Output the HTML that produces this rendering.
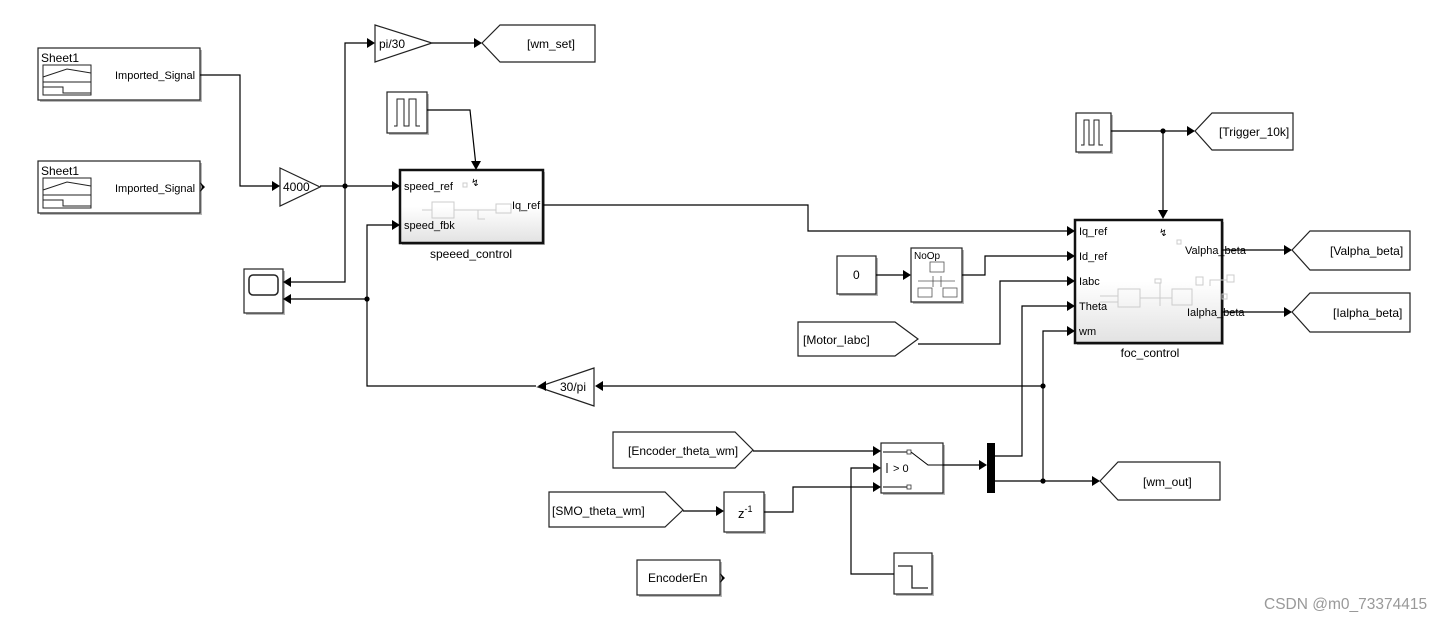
<!DOCTYPE html>
<html><head><meta charset="utf-8"><style>
html,body{margin:0;padding:0;background:#fff;}
svg{display:block;font-family:"Liberation Sans",Arial,sans-serif;}
</style></head><body>
<svg width="1455" height="621" viewBox="0 0 1455 621" xmlns="http://www.w3.org/2000/svg">
<defs>
<linearGradient id="g" x1="0" y1="0" x2="0" y2="1"><stop offset="0" stop-color="#fff"/><stop offset="0.5" stop-color="#fff"/><stop offset="1" stop-color="#e2e2e2"/></linearGradient>
</defs>
<g fill="#b8b8b8">
<rect x="40" y="50" width="162" height="52"/><rect x="40" y="163" width="162" height="52"/>
<rect x="246" y="271" width="39" height="44"/><rect x="389" y="94" width="40" height="41"/>
<rect x="402" y="172" width="143" height="73"/><rect x="1077" y="222" width="147" height="123"/>
<rect x="1078" y="115" width="35" height="39"/><rect x="839" y="258" width="39" height="38"/>
<rect x="913" y="250" width="51" height="54"/><rect x="883" y="445" width="62" height="50"/>
<rect x="726" y="494" width="40" height="40"/><rect x="896" y="555" width="38" height="41"/>
<rect x="639" y="562" width="83" height="35"/>
</g>
<g fill="#fff" stroke="#222" stroke-width="1.2">
<rect x="38" y="48" width="162" height="52"/><rect x="38" y="161" width="162" height="52"/>
<rect x="244" y="269" width="39" height="44"/><rect x="387" y="92" width="40" height="41"/>
<rect x="1076" y="113" width="35" height="39"/><rect x="837" y="256" width="39" height="38"/>
<rect x="911" y="248" width="51" height="54"/><rect x="881" y="443" width="62" height="50"/>
<rect x="724" y="492" width="40" height="40"/><rect x="894" y="553" width="38" height="41"/>
<rect x="637" y="560" width="83" height="35"/>
</g>
<rect x="400" y="170" width="143" height="73" fill="url(#g)" stroke="#111" stroke-width="2.5"/>
<rect x="1075" y="220" width="147" height="123" fill="url(#g)" stroke="#111" stroke-width="2.5"/>
<g fill="none" stroke="#222" stroke-width="1">
<rect x="43" y="65" width="48" height="30"/><line x1="43" y1="82" x2="91" y2="82"/>
<polyline points="43,77 67,69 91,73"/><polyline points="43,87 63,87 63,93 91,93"/>
<rect x="43" y="178" width="48" height="30"/><line x1="43" y1="195" x2="91" y2="195"/>
<polyline points="43,190 67,182 91,186"/><polyline points="43,200 63,200 63,206 91,206"/>
<rect x="249" y="275" width="29" height="20" rx="4" stroke-width="1.5"/>
<polyline points="394,126 397,126 397,99 404,99 404,126 409,126 409,99 416,99 416,126 420,126"/>
<polyline points="1081,145 1084,145 1084,120 1089,120 1089,145 1094,145 1094,120 1099,120 1099,145 1103,145"/>
<polyline points="898,566 912,566 912,588 928,588" stroke-width="1.3"/>
</g>
<g fill="#fff" stroke="#222" stroke-width="1.2">
<polygon points="280,168 320,187 280,206"/>
<polygon points="375,25 432,43 375,62"/>
<polygon points="594,368 538,387 594,406"/>
<polygon points="482,43 500,25 595,25 595,62 500,62"/>
<polygon points="1195,131 1212,113 1293,113 1293,150 1212,150"/>
<polygon points="1292,250 1310,231 1410,231 1410,270 1310,270"/>
<polygon points="1292,312 1310,293 1410,293 1410,332 1310,332"/>
<polygon points="1100,481 1118,462 1220,462 1220,500 1118,500"/>
<polygon points="798,322 895,322 918,339 895,356 798,356"/>
<polygon points="613,432 735,432 753,450 735,468 613,468"/>
<polygon points="549,492 665,492 683,510 665,527 549,527"/>
</g>
<rect x="987" y="443" width="8" height="50" fill="#000"/>
<g fill="none" stroke="#000" stroke-width="1.2">
<polyline points="200,75 240,75 240,186 278,186"/>
<line x1="320" y1="186" x2="397" y2="186"/>
<polyline points="345,186 345,43 373,43"/>
<line x1="432" y1="43" x2="480" y2="43"/>
<polyline points="345,186 345,282 286,282"/>
<polyline points="427,110 470,110 476,166"/>
<polyline points="397,225 367,225 367,386 536,386"/>
<line x1="367" y1="299" x2="286" y2="299"/>
<line x1="1043" y1="386" x2="598" y2="386"/>
<polyline points="543,205 808,205 808,231 1071,231"/>
<line x1="1111" y1="131" x2="1192" y2="131"/>
<line x1="1163" y1="131" x2="1163" y2="215"/>
<line x1="876" y1="275" x2="908" y2="275"/>
<polyline points="962,275 985,275 985,256 1071,256"/>
<polyline points="918,344 1000,344 1000,281 1071,281"/>
<polyline points="995,456 1022,456 1022,306 1071,306"/>
<polyline points="995,481 1043,481 1043,331 1071,331"/>
<line x1="1043" y1="481" x2="1097" y2="481"/>
<line x1="1222" y1="250" x2="1290" y2="250"/>
<line x1="1222" y1="312" x2="1290" y2="312"/>
<line x1="753" y1="451" x2="878" y2="451"/>
<line x1="683" y1="511" x2="721" y2="511"/>
<polyline points="764,512 793,512 793,487 878,487"/>
<polyline points="894,574 851,574 851,468 878,468"/>
<line x1="943" y1="465" x2="984" y2="465"/>
<g stroke-width="1"><polyline points="883,452 907,452"/><polyline points="883,487 907,487"/><polyline points="911,452 928,465 943,465"/><line x1="887" y1="463" x2="887" y2="473"/></g>
</g>
<g fill="none" stroke="#333" stroke-width="0.8"><rect x="907" y="450" width="4" height="4"/><rect x="907" y="485" width="4" height="4"/></g>
<g fill="#000">
<polygon points="280,186 272,181 272,191"/><polygon points="400,186 392,181 392,191"/>
<polygon points="375,43 367,38 367,48"/><polygon points="482,43 474,38 474,48"/>
<polygon points="283,282 291,277 291,287"/><polygon points="283,299 291,294 291,304"/>
<polygon points="476,170 471,161 481,161"/><polygon points="400,225 392,220 392,230"/>
<polygon points="538,386 546,381 546,391"/><polygon points="595,386 603,381 603,391"/>
<polygon points="1075,231 1067,226 1067,236"/><polygon points="1075,256 1067,251 1067,261"/>
<polygon points="1075,281 1067,276 1067,286"/><polygon points="1075,306 1067,301 1067,311"/>
<polygon points="1075,331 1067,326 1067,336"/><polygon points="1195,131 1187,126 1187,136"/>
<polygon points="1163,219 1158,210 1168,210"/><polygon points="911,275 903,270 903,280"/>
<polygon points="1292,250 1284,245 1284,255"/><polygon points="1292,312 1284,307 1284,317"/>
<polygon points="1100,481 1092,476 1092,486"/><polygon points="881,451 873,446 873,456"/>
<polygon points="881,468 873,463 873,473"/><polygon points="881,487 873,482 873,492"/>
<polygon points="724,511 716,506 716,516"/><polygon points="987,465 979,460 979,470"/>
<polygon points="200,182 205,187 200,192 202,187"/><polygon points="720,573 725,578 720,583 722,578"/>
<circle cx="345" cy="186" r="2.6"/><circle cx="367" cy="299" r="2.6"/>
<circle cx="1163" cy="131" r="2.6"/><circle cx="1043" cy="386" r="2.6"/><circle cx="1043" cy="481" r="2.6"/>
</g>
<g fill="none" stroke="#ccc" stroke-width="1">
<rect x="432" y="202" width="22" height="16"/><line x1="422" y1="210" x2="432" y2="210"/><line x1="454" y1="210" x2="496" y2="210"/>
<rect x="496" y="204" width="15" height="9"/><polyline points="478,210 478,219 485,219"/><rect x="463" y="183" width="4" height="4"/>
<rect x="1118" y="289" width="22" height="18"/><rect x="1172" y="289" width="20" height="16"/>
<polyline points="1100,296 1118,296"/><polyline points="1100,302 1118,302"/><polyline points="1140,298 1172,298"/>
<polyline points="1160,283 1160,306"/><rect x="1155" y="279" width="6" height="4"/><rect x="1196" y="277" width="7" height="8"/>
<rect x="1227" y="275" width="7" height="7"/><rect x="1222" y="294" width="5" height="5"/><rect x="1177" y="240" width="4" height="4"/>
<polyline points="1210,286 1210,280 1227,280"/>
</g>
<g fill="none" stroke="#555" stroke-width="0.8">
<rect x="930" y="262" width="14" height="10"/>
<line x1="918" y1="281" x2="955" y2="281"/>
<line x1="933" y1="276" x2="933" y2="287"/><line x1="941" y1="276" x2="941" y2="287"/>
<rect x="918" y="288" width="14" height="9"/><rect x="943" y="288" width="14" height="9"/>
</g>
<g font-size="11" fill="#000">
<text x="41" y="62" font-size="12">Sheet1</text><text x="115" y="79">Imported_Signal</text>
<text x="41" y="175" font-size="12">Sheet1</text><text x="115" y="192">Imported_Signal</text>
<text x="283" y="191" font-size="12">4000</text><text x="379" y="48" font-size="12">pi/30</text>
<text x="527" y="48" font-size="12">[wm_set]</text>
<text x="404" y="190">speed_ref</text><text x="404" y="229">speed_fbk</text><text x="512" y="209">Iq_ref</text>
<text x="471" y="186" font-size="10">↯</text>
<text x="471" y="258" font-size="12" text-anchor="middle">speeed_control</text>
<text x="1079" y="235">Iq_ref</text><text x="1079" y="260">Id_ref</text><text x="1079" y="285">Iabc</text>
<text x="1079" y="310">Theta</text><text x="1079" y="335">wm</text>
<text x="1185" y="254">Valpha_beta</text><text x="1187" y="316">Ialpha_beta</text>
<text x="1159" y="236" font-size="10">↯</text>
<text x="1150" y="357" font-size="12" text-anchor="middle">foc_control</text>
<text x="1219" y="136" font-size="12">[Trigger_10k]</text>
<text x="1330" y="255" font-size="12">[Valpha_beta]</text><text x="1333" y="317" font-size="12">[Ialpha_beta]</text>
<text x="853" y="279" font-size="12">0</text><text x="914" y="259" font-size="10">NoOp</text>
<text x="803" y="344" font-size="12">[Motor_Iabc]</text>
<text x="560" y="391" font-size="12">30/pi</text>
<text x="628" y="455" font-size="12">[Encoder_theta_wm]</text>
<text x="552" y="515" font-size="12">[SMO_theta_wm]</text>
<text x="738" y="518" font-size="13">z<tspan font-size="9" dy="-6">-1</tspan></text>
<text x="893" y="472" font-size="11">&gt; 0</text>
<text x="1143" y="486" font-size="12">[wm_out]</text>
<text x="648" y="582" font-size="12">EncoderEn</text>
<text x="1264" y="609" font-size="15.5" fill="#999">CSDN @m0_73374415</text>
</g>
</svg>
</body></html>
